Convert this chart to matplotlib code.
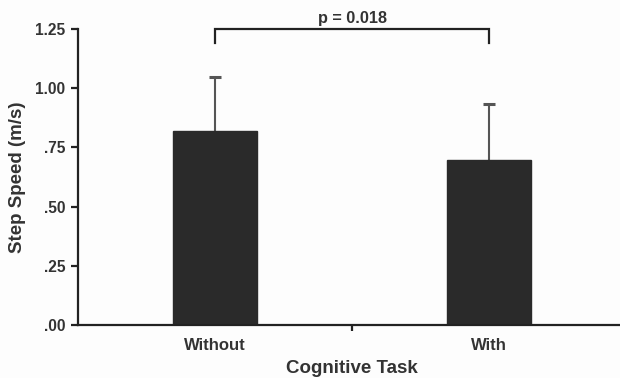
import matplotlib
matplotlib.use("Agg")
import matplotlib.pyplot as plt

categories = ["Without", "With"]
means = [0.819, 0.697]
sd_upper = [0.230, 0.238]
yticks = [0.0, 0.25, 0.5, 0.75, 1.0, 1.25]
ytick_labels = [".00", ".25", ".50", ".75", "1.00", "1.25"]
p_text = "p = 0.018"

plt.rcParams['font.family'] = ['Liberation Sans', 'DejaVu Sans']
plt.rcParams['font.weight'] = 'bold'
txt = '#333333'

fig = plt.figure(figsize=(6.2, 3.78), dpi=100)
fig.patch.set_facecolor('#fdfdfd')
ax = fig.add_axes([78/620, 1-325/378, 1-78/620, (325-29)/378])
ax.set_facecolor('#fdfdfd')

x = list(range(len(categories)))
ax.bar(x, means, width=0.31, color='#2a2a2a', edgecolor='#2a2a2a', zorder=2)
tops = [m + s for m, s in zip(means, sd_upper)]
ax.vlines(x, means, tops, color='#555555', lw=1.5, zorder=1)
ax.plot(x, tops, linestyle='none', marker='_', markersize=8, markeredgewidth=2.2,
        color='#555555', zorder=1)

ax.set_xlim(-0.5, 1.478)
ax.set_ylim(0, 1.25)
ax.set_yticks(yticks)
ax.set_yticklabels(ytick_labels)
ax.set_xticks([0.5])
ax.set_xticklabels([""])
for i, c in enumerate(categories):
    ax.text(i, -0.085, c, ha='center', va='center', fontsize=12,
            fontweight='bold', color=txt)

for s in ['top', 'right']:
    ax.spines[s].set_visible(False)
for s in ['left', 'bottom']:
    ax.spines[s].set_linewidth(1.6)
    ax.spines[s].set_color('#222222')
ax.tick_params(axis='y', direction='out', length=5, width=1.6, colors='#222222',
               labelcolor=txt, labelsize=11.2, pad=4)
ax.tick_params(axis='x', direction='out', length=4, width=1.6, colors='#222222')

ax.set_ylabel("Step Speed (m/s)", fontsize=13.5, fontweight='bold', color=txt, labelpad=7)
ax.text(0.5, -0.185, "Cognitive Task", ha='center', va='center', fontsize=13.5,
        fontweight='bold', color=txt, clip_on=False)

# significance bracket
yb, yl = 1.25, 1.19
ax.plot([0, 0, 1, 1], [yl, yb, yb, yl], color='#222222', lw=1.6, clip_on=False,
        solid_joinstyle='miter')
ax.text(0.5, yb + 0.012, p_text, ha='center', va='bottom', fontsize=11.7,
        fontweight='bold', color=txt, clip_on=False)

fig.savefig("out.png", dpi=100, facecolor=fig.get_facecolor())
